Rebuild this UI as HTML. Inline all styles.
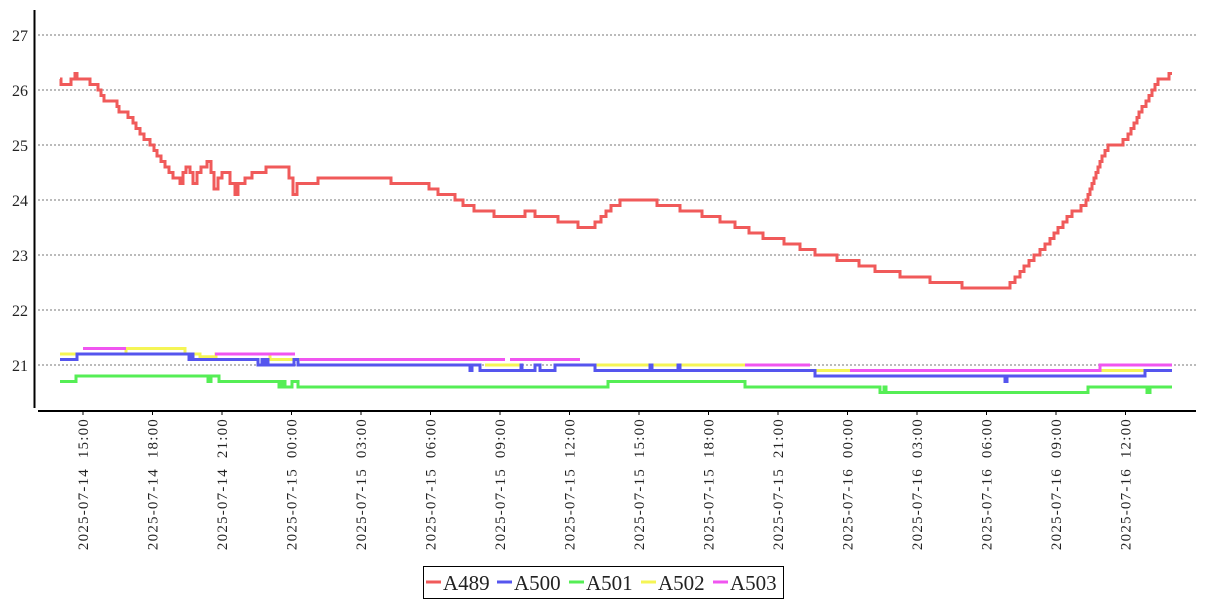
<!DOCTYPE html>
<html><head><meta charset="utf-8"><style>
body{margin:0;background:#fff;width:1207px;height:600px;overflow:hidden}
text{font-family:"Liberation Serif","DejaVu Serif",serif;fill:#222}
</style></head><body>
<svg width="1207" height="600" xmlns="http://www.w3.org/2000/svg">
<g stroke="#777" stroke-dasharray="2,2" stroke-width="1">
<line x1="38" x2="1196" y1="35" y2="35"/><line x1="38" x2="1196" y1="90" y2="90"/>
<line x1="38" x2="1196" y1="145" y2="145"/><line x1="38" x2="1196" y1="200" y2="200"/>
<line x1="38" x2="1196" y1="255" y2="255"/><line x1="38" x2="1196" y1="310" y2="310"/>
<line x1="38" x2="1196" y1="365" y2="365"/>
</g>
<g font-size="16" text-anchor="end">
<text x="28" y="41">27</text><text x="28" y="96">26</text><text x="28" y="151">25</text>
<text x="28" y="206">24</text><text x="28" y="261">23</text><text x="28" y="316">22</text>
<text x="28" y="371">21</text>
</g>
<line x1="34.5" y1="10" x2="34.5" y2="408" stroke="#000" stroke-width="2"/>
<line x1="38" y1="411" x2="1196" y2="411" stroke="#000" stroke-width="2"/>
<g id="ticks" stroke="#000"></g>
<g id="xl" font-size="15" text-anchor="end" letter-spacing="1.2"></g>
<g fill="none" stroke-width="3" id="series"></g>
<rect x="423.5" y="566.5" width="360" height="32" fill="#fff" stroke="#000"/>
<g font-size="21">
<line x1="426" x2="441" y1="582" y2="582" stroke="#f05a5a" stroke-width="3"/><text x="443" y="590">A489</text>
<line x1="497" x2="512" y1="582" y2="582" stroke="#5555ee" stroke-width="3"/><text x="514" y="590">A500</text>
<line x1="569" x2="584" y1="582" y2="582" stroke="#55ee55" stroke-width="3"/><text x="586" y="590">A501</text>
<line x1="641" x2="656" y1="582" y2="582" stroke="#f5f555" stroke-width="3"/><text x="658" y="590">A502</text>
<line x1="713" x2="728" y1="582" y2="582" stroke="#f055f0" stroke-width="3"/><text x="730" y="590">A503</text>
</g>
</svg>
<script>
const NS="http://www.w3.org/2000/svg";
const labels=["2025-07-14 15:00","2025-07-14 18:00","2025-07-14 21:00","2025-07-15 00:00","2025-07-15 03:00","2025-07-15 06:00","2025-07-15 09:00","2025-07-15 12:00","2025-07-15 15:00","2025-07-15 18:00","2025-07-15 21:00","2025-07-16 00:00","2025-07-16 03:00","2025-07-16 06:00","2025-07-16 09:00","2025-07-16 12:00"];
const tg=document.getElementById("ticks"),xl=document.getElementById("xl");
labels.forEach((l,i)=>{const x=83+i*69.5;
const t=document.createElementNS(NS,"line");t.setAttribute("x1",x);t.setAttribute("x2",x);t.setAttribute("y1",411);t.setAttribute("y2",415);tg.appendChild(t);
const tx=document.createElementNS(NS,"text");tx.setAttribute("transform",`translate(${x+5},418) rotate(-90)`);tx.textContent=l.replace(" ","\u00a0\u00a0");xl.appendChild(tx);});
const Y=v=>365-(v-21)*55;
function step(pts){let d="";pts.forEach((p,i)=>{const y=Y(p[1]);if(i==0)d=`M${p[0]},${y}`;else d+=`H${p[0]}V${y}`;});d+=`H${pts[pts.length-1][2]||1172}`;return d;}
const red=[[60,26.2],[61,26.1],[71,26.2],[75,26.3],[77,26.2],[90,26.1],[98,26.0],[101,25.9],[104,25.8],[117,25.7],[119,25.6],[128,25.5],[133,25.4],[136,25.3],[140,25.2],[144,25.1],[150,25.0],[154,24.9],[157,24.8],[161,24.7],[165,24.6],[169,24.5],[173,24.4],[180,24.3],[183,24.5],[186,24.6],[190,24.5],[193,24.3],[197,24.5],[201,24.6],[207,24.7],[211,24.5],[214,24.2],[218,24.4],[222,24.5],[230,24.3],[235,24.1],[238,24.3],[245,24.4],[252,24.5],[266,24.6],[289,24.4],[293,24.1],[297,24.3],[318,24.4],[391,24.3],[429,24.2],[438,24.1],[455,24.0],[463,23.9],[474,23.8],[494,23.7],[525,23.8],[535,23.7],[558,23.6],[578,23.5],[595,23.6],[601,23.7],[606,23.8],[611,23.9],[620,24.0],[657,23.9],[680,23.8],[702,23.7],[720,23.6],[735,23.5],[749,23.4],[763,23.3],[784,23.2],[800,23.1],[815,23.0],[837,22.9],[859,22.8],[875,22.7],[900,22.6],[930,22.5],[962,22.4],[1010,22.5],[1015,22.6],[1020,22.7],[1024,22.8],[1029,22.9],[1034,23.0],[1040,23.1],[1045,23.2],[1050,23.3],[1054,23.4],[1058,23.5],[1063,23.6],[1067,23.7],[1072,23.8],[1081,23.9],[1086,24.0],[1088,24.1],[1090,24.2],[1092,24.3],[1094,24.4],[1096,24.5],[1098,24.6],[1100,24.7],[1102,24.8],[1105,24.9],[1108,25.0],[1123,25.1],[1128,25.2],[1131,25.3],[1134,25.4],[1137,25.5],[1139,25.6],[1142,25.7],[1146,25.8],[1149,25.9],[1152,26.0],[1155,26.1],[1158,26.2],[1169,26.3]];
const blue=[[60,21.1],[77,21.2],[189,21.1],[191,21.2],[193,21.1],[258,21.0],[262,21.1],[264,21.0],[266,21.1],[268,21.0],[294,21.1],[298,21.0],[470,20.9],[472,21.0],[480,20.9],[521,21.0],[522,20.9],[535,21.0],[540,20.9],[555,21.0],[595,20.9],[650,21.0],[652,20.9],[678,21.0],[680,20.9],[815,20.8],[1005,20.7],[1007,20.8],[1145,20.9]];
const green=[[60,20.7],[76,20.8],[208,20.7],[211,20.8],[219,20.7],[222,20.7],[279,20.6],[282,20.7],[285,20.6],[292,20.7],[298,20.6],[300,20.6],[608,20.7],[745,20.6],[750,20.6],[880,20.5],[884,20.6],[886,20.5],[1088,20.6],[1147,20.5],[1150,20.6]];
const yellow=[[60,21.2],[126,21.3],[185,21.2],[200,21.15],[216,21.2],[270,21.1],[345,21.1,345]];
const yellow2=[[485,21.0],[520,21.0,520]];
const yellow3=[[595,21.0],[745,21.0,745]];
const yellow4=[[810,20.9],[850,20.9,850]];
const yellow5=[[1100,20.9],[1145,20.9,1145]];
const mag=[[83,21.3],[126,21.3,126]];
const mag2=[[215,21.2],[295,21.2,295]];
const mag3=[[300,21.1],[505,21.1,505]];
const mag4=[[510,21.1],[580,21.1,580]];
const mag5=[[745,21.0],[810,21.0,810]];
const mag6=[[850,20.9],[1100,20.9],[1100,21.0]];
const g=document.getElementById("series");
function add(pts,c){const p=document.createElementNS(NS,"path");p.setAttribute("d",step(pts));p.setAttribute("stroke",c);g.appendChild(p);}
add(red,"#f05a5a");add(green,"#55ee55");
[yellow,yellow2,yellow3,yellow4,yellow5].forEach(s=>add(s,"#f5f555"));
[mag,mag2,mag3,mag4,mag5,mag6].forEach(s=>add(s,"#f055f0"));
add(blue,"#5555ee");
</script>
</body></html>
